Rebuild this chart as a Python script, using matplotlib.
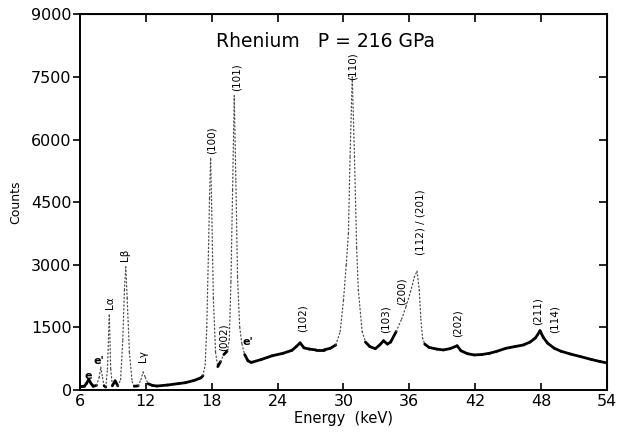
import numpy as np
import matplotlib
matplotlib.use('Agg')
import matplotlib.pyplot as plt
from matplotlib.collections import LineCollection

# spectrum (energy in keV, counts)
energy = [6.0, 6.4, 6.6, 6.8, 7.0, 7.2, 7.5, 7.75, 7.9, 8.05, 8.2, 8.35, 8.5, 8.67, 8.8,
          8.95, 9.2, 9.45, 9.7, 9.9, 10.05, 10.17, 10.3, 10.5, 10.75, 10.95, 11.3, 11.55,
          11.75, 11.95, 12.2, 12.6, 13.0, 14.0, 15.0, 15.6, 16.4, 17.0, 17.2, 17.4, 17.55,
          17.7, 17.8, 17.9, 18.0, 18.15, 18.35, 18.55, 18.8, 19.1, 19.4, 19.6, 19.75, 19.9,
          20.05, 20.2, 20.35, 20.55, 20.75, 21.0, 21.3, 21.6, 22.5, 23.5, 24.5, 25.3, 25.7,
          26.05, 26.4, 26.9, 27.5, 28.2, 28.8, 29.3, 29.7, 30.0, 30.25, 30.45, 30.6, 30.8,
          31.0, 31.2, 31.35, 31.7, 32.0, 32.4, 32.9, 33.3, 33.65, 34.0, 34.3, 34.8, 35.3,
          35.7, 36.1, 36.45, 36.7, 36.9, 37.05, 37.2, 37.4, 37.8, 38.5, 39.1, 39.7, 40.35,
          40.7, 41.3, 41.9, 42.6, 43.3, 44.0, 44.8, 45.6, 46.4, 47.0, 47.5, 47.9, 48.2,
          48.6, 49.2, 49.8, 50.7, 51.6, 52.6, 53.4, 54.0]
counts = [80, 90, 160, 250, 160, 90, 110, 300, 550, 300, 100, 70, 500, 1800, 500,
          100, 220, 100, 250, 1200, 2400, 2950, 2200, 900, 200, 90, 100, 250,
          430, 300, 150, 110, 95, 120, 155, 175, 230, 290, 340, 600, 1500,
          3300, 4600, 5550, 4300, 2200, 900, 560, 680, 850, 930, 1200, 2600, 4800,
          7050, 5000, 2700, 1500, 1100, 850, 700, 660, 730, 820, 880, 950, 1040,
          1130, 1010, 980, 960, 960, 1000, 1080, 1400, 2150, 3000, 3750, 5600, 7500,
          5600, 3400, 2400, 1400, 1150, 1040, 990, 1080, 1180, 1100, 1150, 1400, 1700,
          2000, 2350, 2700, 2850, 2400, 1700, 1250, 1100, 1020, 980, 960, 990, 1060,
          940, 870, 840, 850, 880, 930, 1000, 1040, 1080, 1150, 1250, 1420, 1260,
          1120, 1000, 930, 860, 800, 730, 680, 650]

# peak labels: text, energy, counts
peak_labels = ['(100)', '(101)', '(110)', '(002)', '(102)', '(103)', '(200)',
               '(112) / (201)', '(202)', '(211)', '(114)', 'Lα', 'Lβ', 'Lγ']
peak_x = [18.0, 20.3, 30.86, 19.1, 26.3, 33.8, 35.3, 37.0, 40.4, 47.7, 49.2, 8.75, 10.1, 11.75]
peak_y = [5990, 7500, 7760, 1270, 1725, 1700, 2370, 4025, 1605, 1890, 1700, 2085, 3230, 815]

esc_labels = ['e', "e'", "e'"]
esc_x = [6.75, 7.75, 21.3]
esc_y = [330, 700, 1150]

x = np.array(energy)
y = np.array(counts)

fig = plt.figure(figsize=(6.2, 4.32), dpi=100)
ax = fig.add_axes([0.129, 0.0972, 0.85, 0.8695])

# steep flanks look dotted on the scan, the flat background is a thick trace
slope = np.abs(np.diff(y) / np.diff(x))
steep = slope > 550
segs = np.stack([np.column_stack([x[:-1], y[:-1]]),
                 np.column_stack([x[1:], y[1:]])], axis=1)
lc = LineCollection(segs,
                    linewidths=np.where(steep, 0.9, 2.0),
                    linestyles=[(0, (1, 2)) if s else 'solid' for s in steep],
                    colors=['0.3' if s else 'black' for s in steep],
                    capstyle='round')
ax.add_collection(lc)

ax.set_xlim(6, 54)
ax.set_ylim(0, 9000)
ax.set_xticks(np.arange(6, 55, 6))
ax.set_yticks(np.arange(0, 9001, 1500))
ax.tick_params(axis='x', direction='in', length=5, width=1.2, labelsize=11.5, pad=3)
ax.tick_params(axis='y', direction='out', length=5, width=1.2, labelsize=11.5, pad=1)
for s in ax.spines.values():
    s.set_linewidth(1.4)

top = ax.secondary_xaxis('top')
top.set_xticks(np.arange(12, 49, 6))
top.tick_params(direction='in', length=6, width=1.2, labeltop=False)
right = ax.secondary_yaxis('right')
right.set_yticks(np.arange(1500, 7501, 1500))
right.tick_params(direction='in', length=6, width=1.2, labelright=False)

ax.set_xlabel('Energy  (keV)', fontsize=10.5, labelpad=1)
ax.set_ylabel('Counts', fontsize=9, labelpad=6)

ax.text(28.4, 8340, 'Rhenium   P = 216 GPa', fontsize=13.5, ha='center', va='center')

for t, px, py in zip(peak_labels, peak_x, peak_y):
    ax.text(px, py, t, rotation=90, fontsize=7.5, ha='center', va='center')
for t, px, py in zip(esc_labels, esc_x, esc_y):
    ax.text(px, py, t, fontsize=8, fontweight='bold', ha='center', va='center')

fig.savefig('out.png', dpi=100)
